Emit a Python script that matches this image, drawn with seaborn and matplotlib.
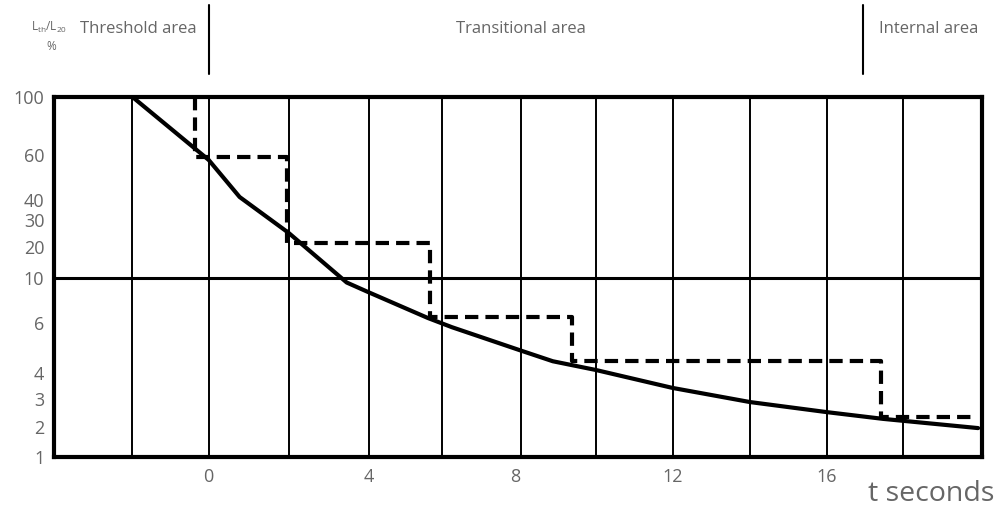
import numpy as np
import pandas as pd
import matplotlib
matplotlib.use("Agg")
import matplotlib.pyplot as plt
import matplotlib.transforms as mtransforms
import seaborn as sns

# ---------------- data ----------------
curve_t = [-1.97, 0.0, 0.80, 2.07, 3.57, 4.14, 5.67, 6.29, 8.07, 8.90, 10.01, 12.0, 14.0, 15.99, 17.44, 19.9]
curve_pct = [100, 57.4, 41.1, 24.7, 9.5, 8.5, 6.35, 5.8, 4.8, 4.4, 4.1, 3.39, 2.87, 2.48, 2.25, 1.95]

step_t = [-0.36, -0.36, 2.02, 5.72, 9.39, 17.39, 19.87]
step_pct = [100, 59, 21.2, 6.4, 4.4, 2.3, 2.3]

y_tick_values = [1, 2, 3, 4, 6, 10, 20, 30, 40, 60, 100]
# relative axis heights of the y labels (non-uniform chart scale)
y_tick_heights = [0, 30, 58, 84, 134, 179, 210, 237, 257, 302, 360]

# x positions (grid lines and labels)
x_grid_lines = [-1.97, 0.0, 2.07, 4.14, 6.03, 8.07, 10.01, 12.0, 14.0, 15.99, 17.96]
x_tick_pos = [0.0, 4.14, 7.92, 12.0, 15.99]
x_tick_labels = ["0", "4", "8", "12", "16"]

region_labels = ["Threshold area", "Transitional area", "Internal area"]
region_dividers = [0, 16.92]

# ---------------- style ----------------
sns.set_style("white")
plt.rcParams["font.family"] = ["Open Sans", "DejaVu Sans"]
TXT = "#666666"

fig = plt.figure(figsize=(10.02, 5.09), dpi=100)
W, H = 1002, 509
ax = fig.add_axes([54 / W, 52 / H, 928 / W, 360 / H])

logk = np.log10(np.array(y_tick_values, dtype=float))
posk = np.array(y_tick_heights, dtype=float)


def fwd(v):
    v = np.clip(np.asarray(v, dtype=float), 1e-3, None)
    return np.interp(np.log10(v), logk, posk)


def inv(p):
    return 10 ** np.interp(np.asarray(p, dtype=float), posk, logk)


ax.set_yscale("function", functions=(fwd, inv))
ax.set_xlim(-4, 20)
ax.set_ylim(1, 100)

df_curve = pd.DataFrame({"t": curve_t, "pct": curve_pct})
df_step = pd.DataFrame({"t": step_t, "pct": step_pct})

sns.lineplot(data=df_curve, x="t", y="pct", ax=ax, color="black", lw=3,
             estimator=None, sort=False, zorder=4)
sns.lineplot(data=df_step, x="t", y="pct", ax=ax, color="black", lw=3,
             estimator=None, sort=False, drawstyle="steps-post",
             dashes=False, zorder=4)
ax.lines[-1].set_dashes((3.2, 1.7))

# grid
ax.grid(False)
for xv in x_grid_lines:
    ax.axvline(xv, color="black", lw=1.4, zorder=1)
ax.axhline(10, color="black", lw=2.2, zorder=1)

ax.set_xticks(x_tick_pos)
ax.set_xticklabels(x_tick_labels)
ax.xaxis.set_minor_locator(matplotlib.ticker.NullLocator())
ax.set_yticks(y_tick_values)
ax.set_yticklabels([str(v) for v in y_tick_values])
ax.yaxis.set_minor_locator(matplotlib.ticker.NullLocator())
ax.tick_params(axis="both", which="both", length=0, colors=TXT, labelsize=13)
ax.tick_params(axis="y", pad=7)
ax.tick_params(axis="x", pad=8)
ax.set_xlabel("")
ax.set_ylabel("")

for s in ax.spines.values():
    s.set_visible(True)
    s.set_color("black")
    s.set_linewidth(3)

# region dividers above the plot
trans = mtransforms.blended_transform_factory(ax.transData, ax.transAxes)
for xd in region_dividers:
    ax.plot([xd, xd], [1.064, 1.256], transform=trans, color="black",
            lw=1.5, clip_on=False)

fig.text(80 / W, 1 - 29 / H, region_labels[0], color=TXT, fontsize=12,
         ha="left", va="center")
fig.text(521 / W, 1 - 29 / H, region_labels[1], color=TXT, fontsize=12,
         ha="center", va="center")
fig.text(879 / W, 1 - 29 / H, region_labels[2], color=TXT, fontsize=12,
         ha="left", va="center")

fig.text(49 / W, 1 - 27 / H, r"$\mathregular{L_{th}/L_{20}}$", color=TXT,
         fontsize=8.5, ha="center", va="center")
fig.text(51 / W, 1 - 46 / H, "%", color=TXT, fontsize=8.5,
         ha="center", va="center")

fig.text(994 / W, 1 - 494 / H, "t seconds", color=TXT, fontsize=20.5,
         ha="right", va="center")

fig.savefig("out.png", dpi=100)
